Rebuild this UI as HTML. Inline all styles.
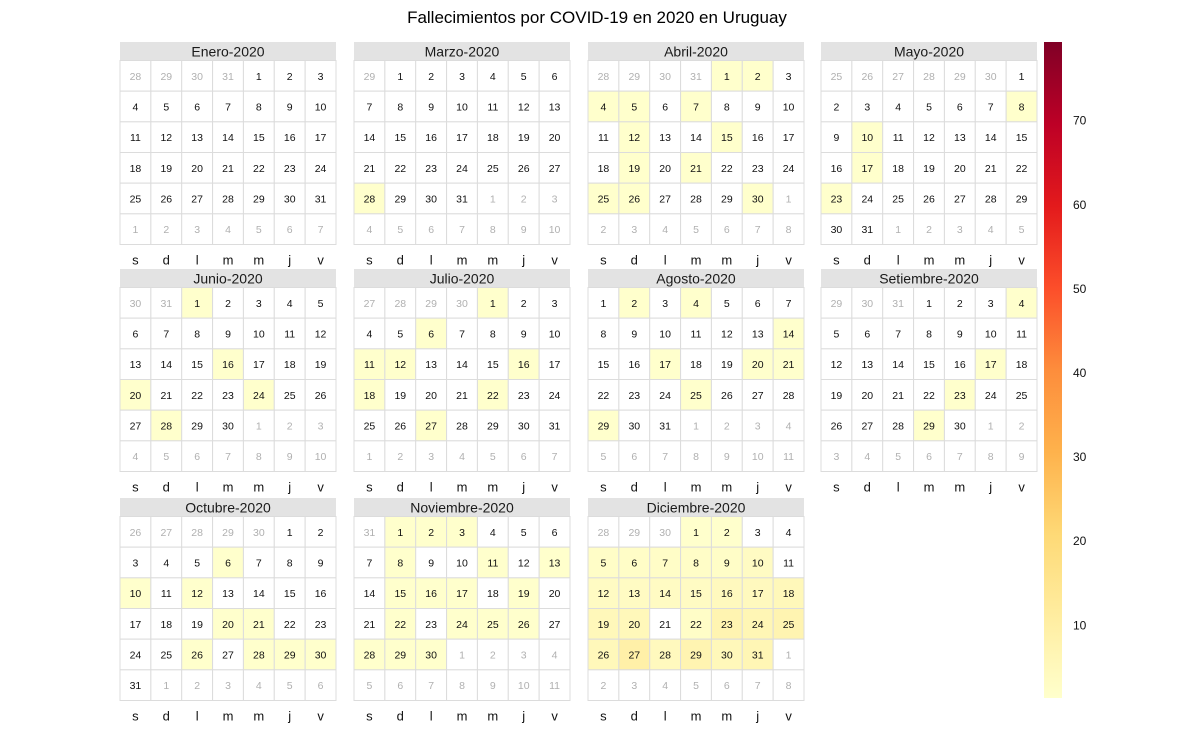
<!DOCTYPE html>
<html><head><meta charset="utf-8"><style>
body{margin:0;background:#fff;font-family:"Liberation Sans",sans-serif}
svg text{font-family:"Liberation Sans",sans-serif}
</style></head><body>
<svg id="c" width="1200" height="750"></svg>
<script>
const monthNames=["Enero","Febrero","Marzo","Abril","Mayo","Junio","Julio","Agosto","Setiembre","Octubre","Noviembre","Diciembre"];
const shownMonths=[0,2,3,4,5,6,7,8,9,10,11];
const weekLabels=["s","d","l","m","m","j","v"];
const legendTicks=[10,20,30,40,50,60,70];
const deathDates=["03-28",
"04-01","04-02","04-04","04-05","04-07","04-12","04-15","04-19","04-21","04-25","04-26","04-30",
"05-08","05-10","05-17","05-23",
"06-01","06-16","06-20","06-24","06-28",
"07-01","07-06","07-11","07-12","07-16","07-18","07-22","07-27",
"08-02","08-04","08-14","08-17","08-20","08-21","08-25","08-29",
"09-04","09-17","09-23","09-29",
"10-06","10-10","10-12","10-20","10-21","10-26","10-28","10-29","10-30",
"11-01","11-02","11-03","11-08","11-11","11-13","11-15","11-16","11-17","11-19","11-22","11-24","11-25","11-26","11-28","11-29","11-30",
"12-01","12-02","12-05","12-06","12-07","12-08","12-09","12-10","12-12","12-13","12-14","12-15","12-16","12-17","12-18","12-19","12-20","12-22","12-23","12-24","12-25","12-26","12-27","12-28","12-29","12-30","12-31"];
const deathValues=[1,
1,1,1,1,1,1,1,1,1,1,1,1,
1,1,1,1,
1,1,1,1,1,
1,1,1,1,1,1,1,1,
1,1,1,1,1,1,1,1,
1,1,1,1,
1,1,1,1,1,1,1,1,1,
1,1,1,1,1,1,1,1,1,1,1,1,1,1,1,1,1,
1,1,2,2,2,2,2,3,3,3,3,3,4,4,5,5,5,2,7,6,7,5,9,4,7,5,6];
const vmin=1,vmax=79;
const stops=["#ffffcc","#ffeda0","#fed976","#feb24c","#fd8d3c","#fc4e2a","#e31a1c","#bd0026","#800026"];
function hex(c){return [1,3,5].map(i=>parseInt(c.substr(i,2),16));}
function color(v){let t=Math.max(0,Math.min(1,(v-vmin)/(vmax-vmin)))*(stops.length-1);let i=Math.min(Math.floor(t),stops.length-2),f=t-i;const a=hex(stops[i]),b=hex(stops[i+1]);return "rgb("+a.map((x,k)=>Math.round(x+(b[k]-x)*f)).join(",")+")";}
function pad(n){return (n<10?"0":"")+n;}
const svg=document.getElementById('c');const NS="http://www.w3.org/2000/svg";
function el(tag,attrs,txt){const e=document.createElementNS(NS,tag);for(const k in attrs)e.setAttribute(k,attrs[k]);if(txt!==undefined)e.textContent=txt;svg.appendChild(e);return e;}
const t=el('text',{x:597,y:23,'text-anchor':'middle','font-size':17,fill:'#000'},'Fallecimientos por COVID-19 en 2020 en Uruguay');


const colX=[120,354,588,821],rowY=[42,269,498],pw=216,sh=18.5,gh=184;
const cw=pw/7,ch=gh/6;
shownMonths.forEach((m,pi)=>{
 const px=colX[pi%4],py=rowY[Math.floor(pi/4)];
 const strip=el('rect',{x:px,y:py,width:pw,height:sh,fill:'#e3e3e3'});
 
 
 const st=el('text',{x:px+pw/2,y:py+14.5,'text-anchor':'middle','font-size':14,fill:'#1a1a1a'},monthNames[m]+'-2020');
 
 
 const first=new Date(2020,m,1);const col0=(first.getDay()+1)%7;
 const start=new Date(2020,m,1-col0);
 const gy=py+sh;
 for(let k=0;k<42;k++){
  const d=new Date(start.getFullYear(),start.getMonth(),start.getDate()+k);
  const c=k%7,r=Math.floor(k/7);
  const inM=d.getMonth()===m;
  let fill='#fff';
  if(inM){const key=pad(m+1)+"-"+pad(d.getDate());const j=deathDates.indexOf(key);if(j>=0)fill=color(deathValues[j]);}
  const cx=px+c*cw,cy=gy+r*ch;
  const cell=el('rect',{x:cx,y:cy,width:cw,height:ch,fill:fill,stroke:'#dcdcdc','stroke-width':1});
  
  
  const dt=el('text',{x:cx+cw/2,y:cy+ch/2+4,'text-anchor':'middle','font-size':10.5,fill:inM?'#111':'#b0b0b0'},d.getDate());
  
  
 }
 weekLabels.forEach((w,i)=>{
  const wl=el('text',{x:px+i*cw+cw/2,y:gy+gh+20,'text-anchor':'middle','font-size':13,fill:'#111'},w);
  
  
 });
});
const lx=1044,ly0=42,ly1=698,lw=18;
const defs=el('defs',{});
const g=document.createElementNS(NS,'linearGradient');g.setAttribute('id','lg');g.setAttribute('x1',0);g.setAttribute('y1',1);g.setAttribute('x2',0);g.setAttribute('y2',0);
stops.forEach((s,i)=>{const o=document.createElementNS(NS,'stop');o.setAttribute('offset',i/(stops.length-1));o.setAttribute('stop-color',s);g.appendChild(o);});
defs.appendChild(g);
const lb=el('rect',{x:lx,y:ly0,width:lw,height:ly1-ly0,fill:'url(#lg)'});


function ly(v){return ly1-(v-vmin)/(vmax-vmin)*(ly1-ly0);}
legendTicks.forEach(v=>{
 const tt=el('text',{x:1073,y:ly(v)+7,'font-size':12,fill:'#111'},v);
 
 
});
</script>
</body></html>
